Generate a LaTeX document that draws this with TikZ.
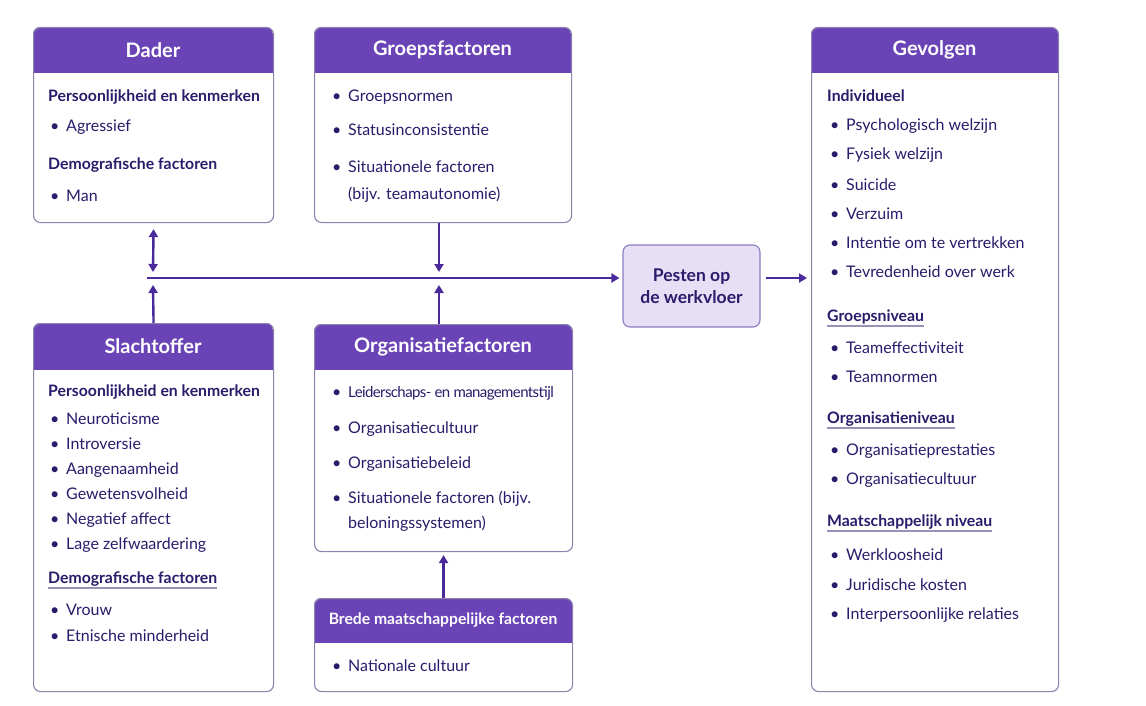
\documentclass[tikz,border=0pt]{standalone}
\usepackage{fontspec}
\setmainfont{Lato}
\usetikzlibrary{arrows.meta}
\definecolor{headfill}{HTML}{6A44B6}
\definecolor{ink}{HTML}{2B1B6B}
\definecolor{arrowc}{HTML}{4A2A9A}
\definecolor{bordc}{HTML}{8C82AC}
\definecolor{pestfill}{HTML}{E6DFF5}
\definecolor{pestbord}{HTML}{8E7CC3}
\definecolor{ulc}{HTML}{9A90B8}
\tikzset{
  panelbox/.style={draw=bordc, line width=1.1pt, rounded corners=7pt, inner sep=0pt},
  headtext/.style={text=white, inner sep=0pt},
  itemtext/.style={anchor=base west, inner sep=0pt, text=ink, font=\fontsize{16}{18}\selectfont},
  subtext/.style={anchor=base west, inner sep=0pt, text=ink, font=\fontsize{15.8}{18}\selectfont\bfseries},
  uline/.style={draw=ulc, line width=1.1pt},
  arr/.style={draw=arrowc, line width=2.4pt, -{Triangle[length=8pt,width=9pt]}},
  arrboth/.style={draw=arrowc, line width=2.4pt, {Triangle[length=8pt,width=9pt]}-{Triangle[length=8pt,width=9pt]}},
}
% name, x, y, w, h, header height, title, title font
\newcommand{\panel}[8]{%
  \begin{scope}
    \clip[rounded corners=7pt] (#2,#3) rectangle ++(#4,#5);
    \fill[headfill] (#2,#3) rectangle ++(#4,#6);
  \end{scope}
  \node[panelbox, minimum width=#4pt, minimum height=#5pt, anchor=north west] (#1) at (#2,#3) {};
  \node[headtext, font=#8] (#1-t) at ({#2+#4/2},{#3+#6/2}) {#7};
}
\newcommand{\bul}[4]{\node[itemtext] (#1) at (#2,#3) {\makebox[16pt][l]{•}#4};}
\newcommand{\cont}[4]{\node[itemtext] (#1) at (#2,#3) {#4};}
\newcommand{\sub}[4]{\node[subtext] (#1) at (#2,#3) {#4};}
\newcommand{\subu}[4]{\node[subtext] (#1) at (#2,#3) {#4};
  \draw[uline] ([yshift=-5pt]#1.base west) -- ([yshift=-5pt]#1.base east);}
\begin{document}
\begin{tikzpicture}[x=1pt,y=-1pt]
\useasboundingbox (0,0) rectangle (1146,706);
\fill[white] (0,0) rectangle (1146,706);
\def\hf{\fontsize{20}{24}\selectfont\bfseries}

% Dader
\panel{dader}{33}{27}{240}{195}{46}{Dader}{\hf}
\sub{d1}{48}{102}{Persoonlijkheid en kenmerken}
\bul{d2}{50}{132}{Agressief}
\sub{d3}{48}{169}{Demografische factoren}
\bul{d4}{50}{201}{Man}

% Groepsfactoren
\panel{groep}{314}{27}{257}{195}{46}{Groepsfactoren}{\hf}
\bul{g1}{332}{102}{Groepsnormen}
\bul{g2}{332}{136}{Statusinconsistentie}
\bul{g3}{332}{172}{Situationele factoren}
\cont{g4}{348}{199}{(bijv. teamautonomie)}

% Slachtoffer
\panel{slacht}{33}{323}{240}{368}{47}{Slachtoffer}{\hf}
\sub{s0}{48}{396}{Persoonlijkheid en kenmerken}
\bul{s1}{50}{424}{Neuroticisme}
\bul{s2}{50}{449}{Introversie}
\bul{s3}{50}{474}{Aangenaamheid}
\bul{s4}{50}{499}{Gewetensvolheid}
\bul{s5}{50}{524}{Negatief affect}
\bul{s6}{50}{549}{Lage zelfwaardering}
\subu{s7}{48}{583}{Demografische factoren}
\bul{s8}{50}{615}{Vrouw}
\bul{s9}{50}{641}{Etnische minderheid}

% Organisatiefactoren
\panel{org}{314}{324}{258}{227}{46}{Organisatiefactoren}{\hf}
\node[itemtext] (o1) at (332,397) {\makebox[16pt][l]{•}{\fontsize{15}{17}\selectfont\addfontfeature{LetterSpace=-4}Leiderschaps- en managementstijl}};
\bul{o2}{332}{433}{Organisatiecultuur}
\bul{o3}{332}{468}{Organisatiebeleid}
\bul{o4}{332}{503}{Situationele factoren (bijv.}
\cont{o5}{348}{528}{beloningssystemen)}

% Brede maatschappelijke factoren
\panel{brede}{314}{598}{258}{93}{45}{Brede maatschappelijke factoren}{\fontsize{15.7}{18}\selectfont\bfseries}
\bul{b1}{332}{671}{Nationale cultuur}

% Gevolgen
\panel{gev}{811}{27}{247}{664}{46}{Gevolgen}{\hf}
\sub{v0}{827}{102}{Individueel}
\bul{v1}{830}{131}{Psychologisch welzijn}
\bul{v2}{830}{160}{Fysiek welzijn}
\bul{v3}{830}{190}{Suicide}
\bul{v4}{830}{219}{Verzuim}
\bul{v5}{830}{248}{Intentie om te vertrekken}
\bul{v6}{830}{277}{Tevredenheid over werk}
\subu{v7}{827}{321}{Groepsniveau}
\bul{v8}{830}{353}{Teameffectiviteit}
\bul{v9}{830}{382}{Teamnormen}
\subu{v10}{827}{423}{Organisatieniveau}
\bul{v11}{830}{455}{Organisatieprestaties}
\bul{v12}{830}{484}{Organisatiecultuur}
\subu{v13}{827}{526}{Maatschappelijk niveau}
\bul{v14}{830}{560}{Werkloosheid}
\bul{v15}{830}{590}{Juridische kosten}
\bul{v16}{830}{619}{Interpersoonlijke relaties}

% Pesten
\node[draw=pestbord, fill=pestfill, line width=1.1pt, rounded corners=7pt, minimum width=137pt, minimum height=82pt, align=center, text=ink, font=\fontsize{17.5}{22}\selectfont\bfseries] (pesten) at (691.5,286) {Pesten op\\de werkvloer};

% connectors
\coordinate (jstart) at (147,278);
\coordinate (j1) at (153,278);
\coordinate (j1a) at (153,272);
\coordinate (j1b) at (153,285);
\coordinate (j2) at (439,278);
\coordinate (j2a) at (439,272);
\coordinate (j2b) at (439,285);
\coordinate (gevin) at (gev.west |- j1);
\coordinate (pestin) at (pesten.west |- j1);
\coordinate (pestout) at (pesten.east |- j1);

\draw[draw=arrowc, line width=2.4pt] (jstart) -- (j2);
\draw[arr] (j2) -- ([xshift=-3pt]pestin);
\draw[arrboth] ([yshift=-6pt]dader.south) -- (j1a);
\draw[arr] (slacht.north) -- (j1b);
\draw[arr] (j2 |- groep.south) -- (j2a);
\draw[arr] (j2 |- org.north) -- (j2b);
\draw[arr] (brede.north) -- ([yshift=-3pt]org.south);
\draw[arr] ([xshift=5pt]pestout) -- ([xshift=-4pt]gevin);
\end{tikzpicture}
\end{document}
